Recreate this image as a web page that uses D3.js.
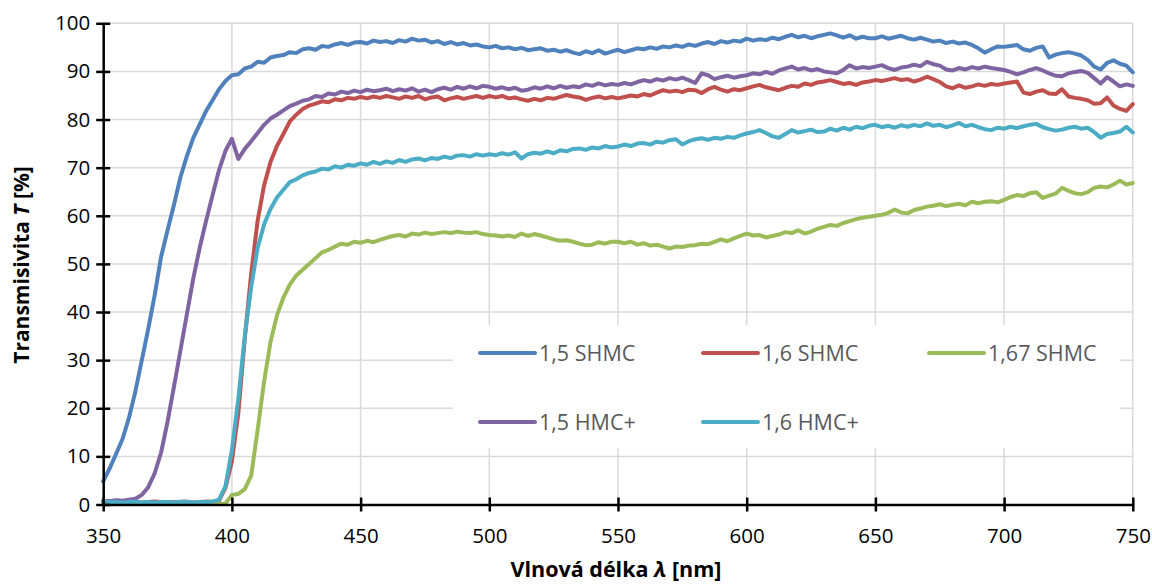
<!DOCTYPE html>
<html>
<head>
<meta charset="utf-8">
<script src="https://cdn.jsdelivr.net/npm/d3@7"></script>
<style>
  body { margin: 0; background: #fff; }
  text { font-family: "Open Sans", sans-serif; }
</style>
</head>
<body>
<div id="chart"></div>
<script>
// wavelength grid (nm), 2.5 nm step
var wavelengths = d3.range(350, 750.001, 2.5);

var xTicks = [350, 400, 450, 500, 550, 600, 650, 700, 750];
var yTicks = [0, 10, 20, 30, 40, 50, 60, 70, 80, 90, 100];

var seriesNames = ["1,5 SHMC", "1,6 SHMC", "1,67 SHMC", "1,5 HMC+", "1,6 HMC+"];
var seriesColors = ["#4F81BD", "#C0504D", "#9BBB59", "#8064A2", "#4BACC6"];

// transmittance [%], one value per wavelength
var shmc15 = [
  4.8, 7.5, 10.5, 13.6, 18.0, 23.5, 30.0, 36.5, 43.5, 51.5, 57.0, 62.3, 68.0, 72.4, 76.2, 79.0, 81.8, 84.0, 86.3, 88.0,
  89.2, 89.4, 90.6, 91.0, 92.0, 91.8, 92.9, 93.2, 93.4, 94.0, 93.8, 94.6, 94.8, 94.5, 95.3, 95.1, 95.6, 95.9, 95.5, 96.0,
  96.1, 95.8, 96.4, 96.1, 96.3, 95.9, 96.5, 96.2, 96.8, 96.4, 96.6, 96.0, 96.3, 95.7, 96.1, 95.6, 95.9, 95.4, 95.6, 95.2,
  95.0, 95.3, 94.8, 95.0, 94.6, 94.9, 94.4, 94.6, 94.8, 94.3, 94.5, 94.1, 94.4, 93.9, 93.6, 94.2, 93.8, 94.4, 93.7, 94.1,
  94.5, 94.0, 94.4, 94.8, 94.6, 95.0, 94.7, 95.2, 95.0, 95.4, 95.1, 95.6, 95.3, 95.8, 96.1, 95.7, 96.3, 96.0, 96.4, 96.2,
  96.8, 96.4, 96.7, 96.5, 97.0, 96.7, 97.2, 97.6, 97.1, 97.4, 96.9, 97.3, 97.6, 97.9, 97.5, 97.0, 97.5, 96.8, 97.2, 96.9,
  96.9, 97.3, 96.8, 97.1, 97.4, 96.9, 96.6, 97.0, 96.6, 96.2, 96.4, 95.9, 96.2, 95.8, 96.0, 95.5, 94.8, 93.9, 94.6, 95.2,
  95.1, 95.3, 95.5, 94.6, 94.3, 94.9, 95.2, 92.9, 93.5, 93.8, 94.0, 93.7, 93.3, 92.4, 91.0, 90.4, 91.8, 92.3, 91.6, 91.2,
  89.8
];

var shmc16 = [
  0.5, 0.6, 0.4, 0.5, 0.6, 0.5, 0.4, 0.5, 0.6, 0.5, 0.4, 0.5, 0.5, 0.6, 0.4, 0.5, 0.6, 0.5, 0.8, 3.5,
  9.0, 19.0, 34.5, 48.0, 59.0, 66.3, 71.2, 74.5, 77.0, 79.6, 81.0, 82.2, 82.9, 83.3, 83.8, 83.6, 84.2, 84.0, 84.5, 84.3,
  84.7, 84.4, 84.8, 84.5, 84.9, 84.6, 84.3, 84.8, 84.5, 84.9, 84.2, 84.6, 84.8, 84.0, 84.4, 84.7, 84.3, 84.6, 84.9, 84.5,
  84.9, 84.6, 84.9, 84.4, 84.6, 84.2, 83.9, 84.3, 84.0, 84.5, 84.3, 84.7, 85.1, 84.8, 84.6, 84.1, 84.5, 84.8, 84.4, 84.7,
  84.4, 84.7, 85.0, 84.8, 85.3, 85.0, 85.6, 86.1, 85.8, 86.0, 85.7, 86.2, 86.1, 85.5, 86.3, 86.8, 86.2, 85.8, 86.3, 86.1,
  86.5, 86.9, 87.2, 86.7, 86.4, 86.1, 86.6, 87.0, 86.8, 87.5, 87.2, 87.7, 87.9, 88.2, 87.8, 87.4, 87.6, 87.2, 87.7, 87.9,
  88.2, 88.0, 88.3, 88.6, 88.2, 88.4, 87.9, 88.3, 88.9, 88.4, 87.8, 86.9, 86.5, 87.1, 86.6, 86.9, 87.3, 87.0, 87.4, 87.2,
  87.5, 87.7, 87.9, 85.6, 85.3, 85.8, 86.1, 85.4, 85.3, 86.3, 84.8, 84.5, 84.3, 84.0, 83.3, 83.4, 84.6, 82.9, 82.2, 81.8,
  83.2
];

var shmc167 = [
  0.1, 0.1, 0.1, 0.1, 0.1, 0.1, 0.1, 0.1, 0.1, 0.1, 0.1, 0.1, 0.1, 0.1, 0.1, 0.1, 0.1, 0.1, 0.1, 0.2,
  2.0, 2.2, 3.2, 6.0, 15.5, 25.5, 33.8, 39.3, 43.0, 45.7, 47.6, 48.8, 50.0, 51.2, 52.4, 52.9, 53.6, 54.2, 54.0, 54.6,
  54.4, 54.8, 54.5, 55.0, 55.4, 55.8, 56.0, 55.7, 56.3, 56.1, 56.5, 56.2, 56.4, 56.6, 56.4, 56.7, 56.5, 56.4, 56.6, 56.2,
  56.0, 55.9, 55.7, 55.9, 55.6, 56.3, 55.8, 56.2, 55.9, 55.5, 55.1, 54.8, 54.9, 54.6, 54.2, 53.9, 54.0, 54.5, 54.2, 54.6,
  54.6, 54.3, 54.6, 54.0, 54.3, 53.8, 54.0, 53.6, 53.2, 53.6, 53.5, 53.8, 53.9, 54.2, 54.1, 54.6, 55.1, 54.7, 55.3, 55.8,
  56.3, 55.9, 56.0, 55.5, 55.8, 56.1, 56.6, 56.4, 57.0, 56.3, 56.7, 57.3, 57.7, 58.1, 57.9, 58.5, 58.9, 59.3, 59.6, 59.8,
  60.0, 60.2, 60.6, 61.3, 60.7, 60.5, 61.2, 61.5, 61.9, 62.1, 62.4, 62.0, 62.3, 62.5, 62.2, 62.9, 62.6, 62.9, 63.0, 62.8,
  63.3, 63.9, 64.3, 64.1, 64.7, 64.9, 63.7, 64.2, 64.6, 65.8, 65.2, 64.7, 64.5, 64.9, 65.8, 66.1, 65.9, 66.5, 67.3, 66.5,
  66.8
];

var hmc15 = [
  0.8, 0.7, 0.9, 0.8, 1.0, 1.2, 2.0, 3.6, 6.5, 10.8, 17.2, 24.5, 32.0, 39.5, 47.0, 53.4, 59.0, 64.3, 69.5, 73.5,
  76.0, 71.8, 73.9, 75.5, 77.2, 78.9, 80.2, 81.0, 81.9, 82.8, 83.3, 83.9, 84.2, 84.9, 84.7, 85.4, 85.2, 85.8, 85.5, 86.0,
  85.7, 86.2, 85.9, 86.1, 86.4, 85.9, 86.3, 86.0, 86.5, 85.8, 86.2, 85.7, 86.3, 86.6, 86.2, 86.8, 86.4, 86.9, 86.5, 87.0,
  86.8, 86.4, 86.7, 86.3, 86.6, 86.0, 86.2, 86.7, 86.4, 86.9, 86.5, 87.0, 86.6, 86.9, 86.7, 87.3, 87.0, 87.5, 87.1, 87.4,
  87.2, 87.6, 87.3, 87.8, 88.2, 87.9, 88.4, 88.1, 88.6, 88.3, 88.7, 88.2, 87.6, 89.6, 89.2, 88.4, 88.8, 89.1, 88.7, 89.0,
  89.2, 89.6, 89.4, 89.9, 89.5, 90.2, 90.6, 91.0, 90.4, 90.7, 90.2, 90.5, 90.0, 89.8, 89.6, 90.3, 91.3, 90.6, 90.9, 90.7,
  91.0, 91.3, 90.7, 90.3, 90.8, 91.0, 91.4, 91.1, 92.0, 91.5, 91.2, 90.4, 90.2, 90.7, 90.4, 90.9, 90.6, 91.0, 90.7, 90.5,
  90.3, 89.9, 89.4, 89.8, 90.3, 90.7, 90.2, 89.6, 89.1, 89.0, 89.6, 89.9, 90.1, 89.7, 88.6, 87.5, 88.8, 87.9, 86.9, 87.3,
  87.0
];

var hmc16 = [
  0.6, 0.5, 0.5, 0.4, 0.5, 0.6, 0.4, 0.5, 0.4, 0.5, 0.5, 0.4, 0.6, 0.5, 0.4, 0.5, 0.5, 0.6, 1.0, 3.8,
  11.3, 22.0, 35.0, 45.2, 53.3, 58.2, 61.4, 63.8, 65.4, 67.0, 67.6, 68.4, 68.9, 69.2, 69.8, 69.6, 70.3, 70.0, 70.6, 70.4,
  70.9, 70.6, 71.2, 70.8, 71.3, 71.0, 71.6, 71.2, 71.7, 71.9, 71.5, 72.0, 71.8, 72.3, 72.0, 72.5, 72.6, 72.3, 72.8, 72.5,
  72.8, 72.6, 73.0, 72.7, 73.2, 71.9, 72.8, 73.1, 72.9, 73.4, 73.0, 73.6, 73.4, 73.9, 74.0, 73.7, 74.2, 74.0, 74.5, 74.2,
  74.4, 74.8, 74.5, 75.0, 75.1, 74.8, 75.4, 75.2, 75.7, 75.9, 74.8, 75.5, 75.9, 76.1, 75.8, 76.2, 76.0, 76.4, 76.2, 76.7,
  77.1, 77.4, 77.8, 77.2, 76.5, 76.2, 77.0, 77.8, 77.3, 77.6, 77.9, 77.4, 77.5, 78.1, 77.7, 78.3, 77.9, 78.5, 78.2, 78.7,
  78.9, 78.4, 78.7, 78.3, 78.8, 78.5, 78.9, 78.6, 79.2, 78.7, 78.9, 78.4, 78.8, 79.3, 78.6, 78.9, 78.4, 78.0, 77.8, 78.3,
  78.1, 78.5, 78.2, 78.6, 78.9, 79.1, 78.4, 78.0, 77.7, 77.9, 78.3, 78.5, 78.1, 78.3, 77.4, 76.2, 77.0, 77.2, 77.5, 78.5,
  77.3
];

var seriesValues = [shmc15, shmc16, shmc167, hmc15, hmc16];

var margin = { top: 23.3, left: 103.2 },
    width = 1029.6,
    height = 481.2;

var svg = d3.select('#chart')
            .append('svg')
            .attr('width', 1152)
            .attr('height', 584);

var g = svg.append('g')
           .attr('transform', 'translate(' + margin.left + ',' + margin.top + ')');

var xScale = d3.scaleLinear().domain([350, 750]).range([0, width]);
var yScale = d3.scaleLinear().domain([0, 100]).range([height, 0]);

// gridlines
g.selectAll('.hgrid')
  .data(yTicks.slice(1))
  .enter()
  .append('line')
  .attr('x1', 0)
  .attr('x2', width)
  .attr('y1', function(d) { return yScale(d); })
  .attr('y2', function(d) { return yScale(d); })
  .style('stroke', '#d9d9d9')
  .style('stroke-width', 1.5);

g.selectAll('.vgrid')
  .data(xTicks.slice(1))
  .enter()
  .append('line')
  .attr('y1', 0)
  .attr('y2', height)
  .attr('x1', function(d) { return xScale(d); })
  .attr('x2', function(d) { return xScale(d); })
  .style('stroke', '#d9d9d9')
  .style('stroke-width', 1.5);

// legend box covers the grid
var legendBox = { x: 453, y: 325, w: 667, h: 123 };
svg.append('rect')
  .attr('x', legendBox.x)
  .attr('y', legendBox.y)
  .attr('width', legendBox.w)
  .attr('height', legendBox.h)
  .style('fill', '#fff');

// series lines
var line = d3.line()
  .x(function(d, i) { return xScale(wavelengths[i]); })
  .y(function(d) { return yScale(d); });

seriesValues.forEach(function(vals, k) {
  g.append('path')
    .datum(vals)
    .attr('d', line)
    .style('fill', 'none')
    .style('stroke', seriesColors[k])
    .style('stroke-width', 4)
    .style('stroke-linejoin', 'round')
    .style('stroke-linecap', 'round');
});

// axes
var yAxis = g.append('g')
  .attr('class', 'y axis')
  .call(d3.axisLeft(yScale).tickValues(yTicks).tickSize(7).tickSizeOuter(0).tickPadding(6));
yAxis.selectAll('.tick line').attr('x1', 7);

var xAxis = g.append('g')
  .attr('class', 'x axis')
  .attr('transform', 'translate(0,' + height + ')')
  .call(d3.axisBottom(xScale).tickValues(xTicks).tickSize(7).tickSizeOuter(0).tickPadding(17));
xAxis.selectAll('.tick line').attr('y1', -7);

g.selectAll('.axis path, .axis line')
  .style('stroke', '#000')
  .style('stroke-width', 2.5);
g.selectAll('.axis text')
  .style('font-family', '"Open Sans", sans-serif')
  .style('font-size', '20.5px')
  .style('fill', '#000');

// axis titles
var yTitle = svg.append('text')
  .attr('transform', 'translate(22,265) rotate(-90)')
  .attr('dy', '0.35em')
  .style('text-anchor', 'middle')
  .style('font-size', '21px')
  .style('font-weight', 'bold');
yTitle.append('tspan').text('Transmisivita ');
yTitle.append('tspan').style('font-style', 'italic').text('T');
yTitle.append('tspan').text(' [%]');

var xTitle = svg.append('text')
  .attr('x', 616)
  .attr('y', 577)
  .style('text-anchor', 'middle')
  .style('font-size', '21.5px')
  .style('font-weight', 'bold');
xTitle.append('tspan').text('Vlnová délka ');
xTitle.append('tspan').style('font-style', 'italic').text('λ');
xTitle.append('tspan').text(' [nm]');

// legend
var legendX = [480, 703, 929],
    legendY = [353, 422];

var items = svg.selectAll('.legend')
  .data(seriesNames)
  .enter()
  .append('g')
  .attr('transform', function(d, i) {
    return 'translate(' + legendX[i % 3] + ',' + legendY[Math.floor(i / 3)] + ')';
  });

items.append('line')
  .attr('x1', 0)
  .attr('x2', 55)
  .style('stroke', function(d, i) { return seriesColors[i]; })
  .style('stroke-width', 4)
  .style('stroke-linecap', 'round');

items.append('text')
  .attr('x', 59)
  .attr('dy', '0.35em')
  .text(function(d) { return d; })
  .style('font-size', '21.5px')
  .style('fill', '#595959');
</script>
</body>
</html>
